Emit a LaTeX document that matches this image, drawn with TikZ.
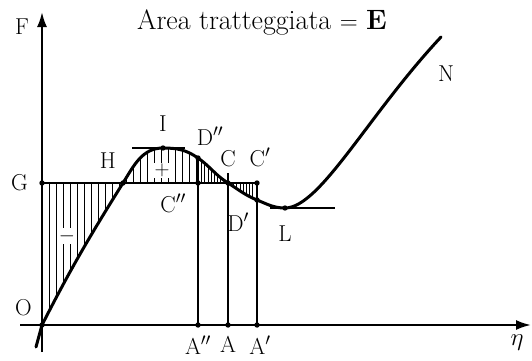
\documentclass[tikz,border=0pt]{standalone}
\usepackage{amsmath}
\usepackage{fontspec}
\usetikzlibrary{arrows.meta,positioning,patterns.meta}
\tikzset{
  ptlab/.style={font=\fontsize{23}{26}\selectfont, inner sep=1pt},
  axisarr/.style={-{Latex[length=15pt,width=10pt]}, line width=2.2pt},
  curveln/.style={line width=3pt, line cap=round},
  thinln/.style={line width=1.4pt},
  hatchwide/.style={pattern={Lines[angle=90,distance=7pt,line width=.9pt]}},
  hatchdense/.style={pattern={Lines[angle=90,distance=3.2pt,line width=.8pt]}},
  signbox/.style={fill=white, inner sep=1pt, font=\fontsize{22}{24}\selectfont}
}
\begin{document}
\begin{tikzpicture}[x=1pt, y=1pt]
  \useasboundingbox (0,0) rectangle (532,360);
  % points of the curve
  \coordinate (S) at (36,13);
  \coordinate (O) at (42,35);
  \coordinate (G) at (42,177);
  \coordinate (H) at (123,177);
  \coordinate (I) at (163,212);
  \coordinate (Dpp) at (198,202);
  \coordinate (Cpp) at (198,177);
  \coordinate (C) at (228,177);
  \coordinate (Cp) at (257,177);
  \coordinate (Dp) at (257,160);
  \coordinate (L) at (285,152);
  \coordinate (N) at (441,323);
  \coordinate (App) at (198,35);
  \coordinate (A) at (228,35);
  \coordinate (Ap) at (257,35);
  % axes ends
  \coordinate (Ybot) at (42,8);
  \coordinate (Ytop) at (42,348);
  \coordinate (Xleft) at (20,35);
  \coordinate (Xright) at (531,35);

  % hatched areas
  \fill[hatchwide] (G) -- (H) to[out=238,in=63] (O) -- cycle;
  \fill[hatchwide] (H) to[out=58,in=180] (I) to[out=0,in=145] (Dpp) -- (Cpp) -- cycle;
  \fill[hatchdense] (Dpp) to[out=-35,in=148] (C) -- (Cpp) -- cycle;
  \fill[hatchdense] (C) to[out=-32,in=158] (Dp) -- (Cp) -- cycle;
  \node[signbox] (minus) at (67,124) {$-$};
  \node[signbox] (plus) at (162,190) {$+$};

  % axes
  \draw[axisarr] (Ybot) -- (Ytop);
  \draw[axisarr] (Xleft) -- (Xright);

  % G line, ordinates and tangents
  \draw[thinln] (G) -- (Cp);
  \draw[thinln] (App) -- (Dpp);
  \draw[thinln] (A) -- ([yshift=10pt]C);
  \draw[thinln] (Ap) -- (Cp);
  \draw[thinln] ([xshift=-31pt]I) -- ([xshift=22pt]I);
  \draw[thinln] ([xshift=-15pt]L) -- ([xshift=50pt]L);

  % the curve
  \draw[curveln] (S) -- (O) to[out=63,in=238] (H) to[out=58,in=180] (I)
    to[out=0,in=145] (Dpp) to[out=-35,in=148] (C) to[out=-32,in=158] (Dp)
    to[out=-22,in=180] (L) .. controls (320,152) and (368,245) .. (N);

  \foreach \p in {O,G,H,I,Dpp,Cpp,C,Cp,Dp,L,App,A,Ap}
    \fill (\p) circle (2.7pt);

  % labels
  \node[ptlab] (labF) at (22,333) {F};
  \node[ptlab, below=9pt of Xright, xshift=-14pt] (labeta) {$\eta$};
  \node[ptlab, left=13pt of G] (labG) {G};
  \node[ptlab, above left=8pt and 9pt of O] (labO) {O};
  \node[ptlab, above left=13pt and 6pt of H] (labH) {H};
  \node[ptlab, above=15pt of I] (labI) {I};
  \node[ptlab, above=11pt of Dpp, xshift=12pt] (labDpp) {D$''$};
  \node[ptlab, above=15pt of C] (labC) {C};
  \node[ptlab, above=15pt of Cp, xshift=3pt] (labCp) {C$'$};
  \node[ptlab, below left=10pt and 11pt of Cpp] (labCpp) {C$''$};
  \node[ptlab, below left=12pt and 7pt of Dp] (labDp) {D$'$};
  \node[ptlab, below=17pt of L] (labL) {L};
  \node[ptlab, below=28pt of N, xshift=5pt] (labN) {N};
  \node[ptlab, below=10pt of App] (labApp) {A$''$};
  \node[ptlab, below=10pt of A] (labA) {A};
  \node[ptlab, below=10pt of Ap, xshift=3pt] (labAp) {A$'$};
  \node[font=\fontsize{28}{32}\selectfont] (title) at (262,338) {Area tratteggiata $=$ \textbf{E}};
\end{tikzpicture}
\end{document}
